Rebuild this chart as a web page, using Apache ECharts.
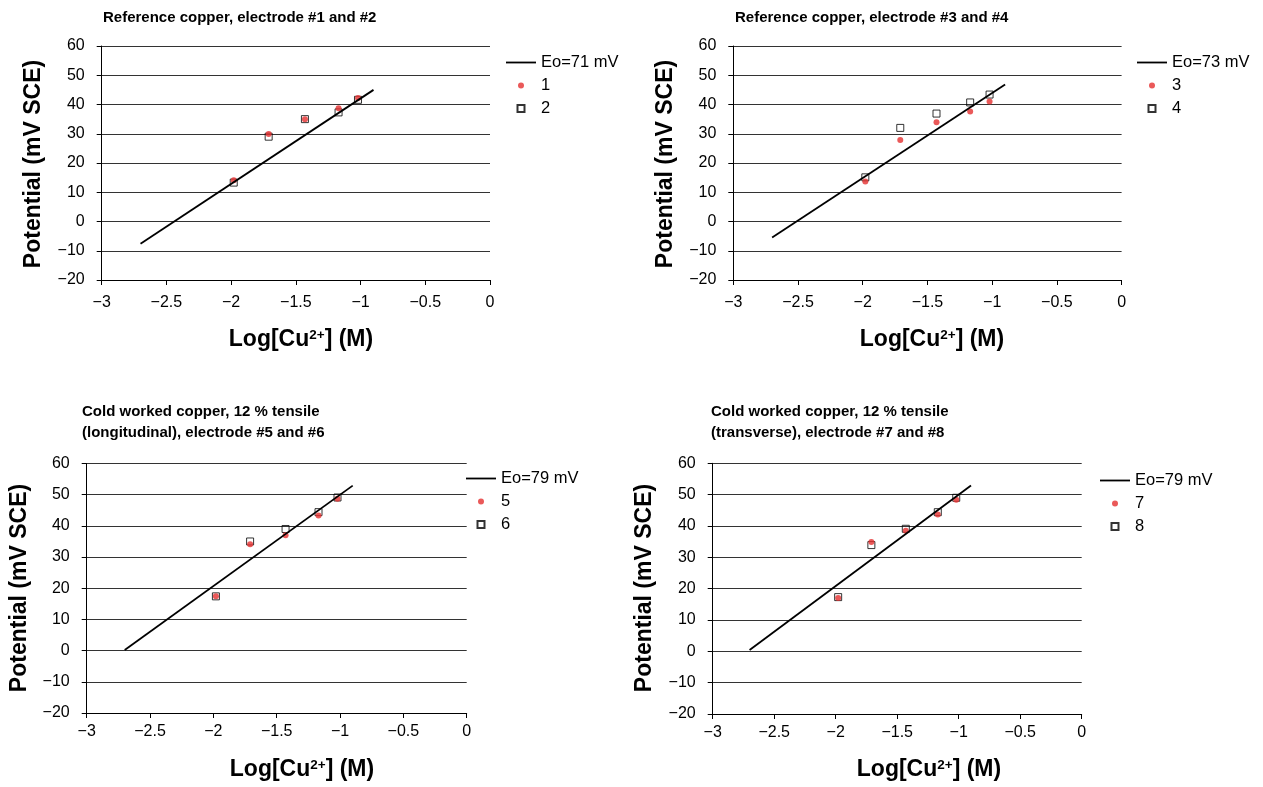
<!DOCTYPE html>
<html><head><meta charset="utf-8">
<script src="https://cdn.jsdelivr.net/npm/echarts@6/dist/echarts.min.js"></script>
<style>html,body{margin:0;padding:0;background:#fff}#c{width:1263px;height:787px}</style>
</head><body><div id="c"></div>
<script>
// ---- data ----
const logCu = [-1.98, -1.71, -1.43, -1.17, -1.02];
const e1 = [14.1, 29.9, 35.0, 38.7, 42.2];
const e2 = [13.3, 29.0, 35.0, 37.3, 41.6];
const e3 = [13.7, 27.9, 33.9, 37.6, 41.0];
const e4 = [15.1, 32.0, 36.9, 40.7, 43.4];
const e5 = [17.4, 34.1, 37.0, 43.3, 48.7];
const e6 = [17.4, 35.0, 39.0, 44.4, 49.1];
const e7 = [17.0, 34.9, 38.5, 43.7, 48.4];
const e8 = [17.3, 33.9, 39.1, 44.4, 49.0];
const fitX = [-2.7, -0.9];
const fit71 = [-7.6, 45.0];
const fit73 = [-5.5, 46.8];
const fit79a = [0.2, 52.9];
const fit79b = [0.4, 52.9];
const xTicks = [-3, -2.5, -2, -1.5, -1, -0.5, 0];
const yTicks = [-20, -10, 0, 10, 20, 30, 40, 50, 60];
const titles = [
  'Reference copper, electrode #1 and #2',
  'Reference copper, electrode #3 and #4',
  'Cold worked copper, 12 % tensile\n(longitudinal), electrode #5 and #6',
  'Cold worked copper, 12 % tensile\n(transverse), electrode #7 and #8'
];
const fitNames = ['Eo=71 mV', 'Eo=73 mV', 'Eo=79 mV', 'Eo=79 mV'];
const dotNames = ['1', '3', '5', '7'];
const sqNames = ['2', '4', '6', '8'];
const yName = 'Potential (mV SCE)';
const xName = 'Log[Cu{s|2+}] (M)';

const fits = [fit71, fit73, fit79a, fit79b];
const dots = [e1, e3, e5, e7];
const squares = [e2, e4, e6, e8];

// ---- layout ----
const FF = '"Liberation Sans", Arial, Helvetica, sans-serif';
const panels = [
  {left: 101.7, top: 46, width: 388.3, height: 234, title: [103, 7.5], legend: [506, 54], yn: [34, 164], xn: [301, 340], xm: 15},
  {left: 733.3, top: 46, width: 388.3, height: 234, title: [735, 7.5], legend: [1137, 54], yn: [665.6, 164], xn: [932, 340], xm: 15},
  {left: 86.7, top: 463.5, width: 380, height: 249.5, title: [82, 401.5], legend: [466, 470], yn: [20, 588], xn: [302, 770], xm: 11},
  {left: 712.7, top: 463.3, width: 369, height: 250.7, title: [711, 401.5], legend: [1100, 472], yn: [645, 588], xn: [929, 770], xm: 11}
];
const fmt = v => String(v).replace('-', '\u2212');
const lineIcon = 'path://M0,0h30v1.8h-30z';
const dotIcon = 'path://M0,0M8,8M7,4A3,3,0,1,1,1,4A3,3,0,1,1,7,4Z';
const sqIcon = 'path://M0,0M8,8M0.5,0.5H7.5V7.5H0.5Z';
const RED = '#e52f2f';

const option = {
  animation: false,
  backgroundColor: '#fff',
  title: panels.map((p, i) => ({
    text: titles[i], left: p.title[0], top: p.title[1], padding: 0,
    textStyle: {fontSize: 15, fontWeight: 'bold', color: '#000', fontFamily: FF, lineHeight: 21}
  })),
  grid: panels.map(p => ({left: p.left, top: p.top, width: p.width, height: p.height, containLabel: false})),
  xAxis: panels.map((p, i) => ({
    type: 'value', gridIndex: i,
    min: xTicks[0], max: xTicks[xTicks.length - 1], interval: xTicks[1] - xTicks[0],
    axisLine: {show: true, onZero: false, lineStyle: {color: '#000', width: 1}},
    axisTick: {show: true, inside: false, length: 5, lineStyle: {color: '#000'}},
    axisLabel: {color: '#000', fontSize: 16, fontFamily: FF, margin: p.xm, formatter: fmt},
    splitLine: {show: false}
  })),
  yAxis: panels.map((p, i) => ({
    type: 'value', gridIndex: i,
    min: yTicks[0], max: yTicks[yTicks.length - 1], interval: yTicks[1] - yTicks[0],
    axisLine: {show: true, onZero: false, lineStyle: {color: '#000', width: 1}},
    axisTick: {show: true, inside: false, length: 5, lineStyle: {color: '#000'}},
    axisLabel: {color: '#000', fontSize: 16, fontFamily: FF, margin: 17, formatter: fmt},
    splitLine: {show: true, lineStyle: {color: '#333', width: 1}}
  })),
  legend: panels.map((p, i) => ({
    orient: 'vertical', left: p.legend[0], top: p.legend[1], padding: 0,
    itemWidth: 30, itemHeight: 8, itemGap: 6, selectedMode: false,
    textStyle: {fontSize: 16.5, color: '#000', fontFamily: FF, lineHeight: 17},
    data: [{name: fitNames[i], icon: lineIcon}, {name: dotNames[i], icon: dotIcon}, {name: sqNames[i], icon: sqIcon}]
  })),
  series: panels.flatMap((p, i) => [
    {
      type: 'line', name: fitNames[i], xAxisIndex: i, yAxisIndex: i,
      data: fitX.map((x, k) => [x, fits[i][k]]),
      symbol: 'none', lineStyle: {color: '#000', width: 1.8}, itemStyle: {color: '#000'}, silent: true
    },
    {
      type: 'scatter', name: sqNames[i], xAxisIndex: i, yAxisIndex: i,
      data: logCu.map((x, k) => [x, squares[i][k]]),
      symbol: 'rect', symbolSize: 7,
      itemStyle: {color: 'rgba(255,255,255,0)', borderColor: '#000', borderWidth: 1}
    },
    {
      type: 'scatter', name: dotNames[i], xAxisIndex: i, yAxisIndex: i,
      data: logCu.map((x, k) => [x, dots[i][k]]),
      symbol: 'circle', symbolSize: 6,
      itemStyle: {color: RED}
    }
  ]),
  graphic: panels.flatMap(p => [
    {
      type: 'text', x: p.yn[0], y: p.yn[1], rotation: Math.PI / 2,
      style: {text: yName, fontSize: 23, fontWeight: 'bold', fontFamily: FF, fill: '#000', align: 'center', verticalAlign: 'middle'}
    },
    {
      type: 'text', x: p.xn[0], y: p.xn[1],
      style: {
        text: xName, fontSize: 23, fontWeight: 'bold', fontFamily: FF, fill: '#000', align: 'center', verticalAlign: 'middle',
        rich: {s: {fontSize: 13.5, fontWeight: 'bold', fontFamily: FF, fill: '#000', verticalAlign: 'top'}}
      }
    }
  ])
};
const chart = echarts.init(document.getElementById('c'), null, {renderer: 'canvas'});
chart.setOption(option);
</script>
</body></html>
